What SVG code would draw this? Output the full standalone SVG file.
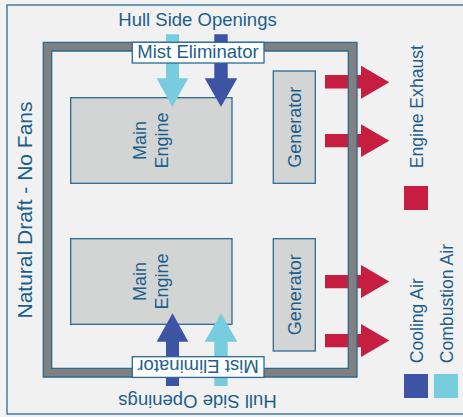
<svg xmlns="http://www.w3.org/2000/svg" width="463" height="417" viewBox="0 0 463 417">
<style>
text{font-family:"Liberation Sans",Arial,sans-serif;fill:#1d5f8c}
.t{font-size:18.5px}
.s{font-size:18px}
.l{font-size:17.6px}
.box{fill:#d3d4d4;stroke:#2a6a94;stroke-width:1.3}
.red{fill:#c61e41}
.dark{fill:#3d53a3}
.light{fill:#76cddd}
</style>
<rect x="0" y="0" width="463" height="417" fill="#f2f2f2"/>
<rect id="frame" x="7" y="5" width="470" height="409" fill="#f1f1f1" stroke="#2a6a94" stroke-width="1.3"/>
<g id="connectors">
<path class="red" d="M325 75H361V65.7L389.3 82.3L361 98.7V88.5H325Z"/>
<path class="red" d="M325 134H361V124.3L389.3 140.7L361 157V147.3H325Z"/>
<path class="red" d="M325 275H361V265L389.3 281.5L361 298V288.3H325Z"/>
<path class="red" d="M325 334H361V324L389.3 340.5L361 357V347.3H325Z"/>
</g>
<g id="wall">
<path d="M43.3 42.3H357V377H43.3ZM51.7 51H348.3V368.3H51.7Z" fill="#808080" fill-rule="evenodd" stroke="#2a6a94" stroke-width="1.3"/>
</g>
<g id="engine-top"><rect class="box" x="70.7" y="97.7" width="161.3" height="85.6"/>
<text class="s" text-anchor="middle" transform="translate(146,140.5) rotate(-90)">Main</text>
<text class="s" text-anchor="middle" transform="translate(167.7,140.5) rotate(-90)">Engine</text></g>
<g id="engine-bottom"><rect class="box" x="70.7" y="238.7" width="161.3" height="85.6"/>
<text class="s" text-anchor="middle" transform="translate(146,281.5) rotate(-90)">Main</text>
<text class="s" text-anchor="middle" transform="translate(167.7,281.5) rotate(-90)">Engine</text></g>
<g id="generator-top"><rect class="box" x="273.3" y="71" width="42" height="112.3"/>
<text class="s" text-anchor="middle" transform="translate(300.5,127.2) rotate(-90)">Generator</text></g>
<g id="generator-bottom"><rect class="box" x="273.3" y="238.7" width="42" height="112.3"/>
<text class="s" text-anchor="middle" transform="translate(300.5,294.8) rotate(-90)">Generator</text></g>
<g id="air-arrows">
<path class="light" d="M166 34.3H179V78.3H188.3L172.3 106.7L156.7 78.3H166Z"/>
<path class="dark" d="M214.3 34.3H227.7V78.3H237.3L221 106.7L204.7 78.3H214.3Z"/>
<path class="dark" d="M166 386H179V341.7H188.3L172.5 313.3L156.7 341.7H166Z"/>
<path class="light" d="M214.3 386H227.7V341.7H237.3L221 313.3L204.7 341.7H214.3Z"/>
</g>
<g id="mist-top"><rect x="132.3" y="42.3" width="131.7" height="20.7" fill="#fff" stroke="#2a6a94" stroke-width="1.3"/>
<text class="t" x="198" y="58.4" text-anchor="middle">Mist Eliminator</text></g>
<g id="mist-bottom"><rect x="132.3" y="356.7" width="131.7" height="20.7" fill="#fff" stroke="#2a6a94" stroke-width="1.3"/>
<text class="t" text-anchor="middle" transform="translate(198,360) rotate(180)">Mist Eliminator</text></g>
<g id="hull-top"><text class="t" x="197.5" y="26" text-anchor="middle">Hull Side Openings</text></g>
<g id="hull-bottom"><text class="t" text-anchor="middle" transform="translate(197.5,395) rotate(180)">Hull Side Openings</text></g>
<g id="natural"><text text-anchor="middle" style="font-size:21px" transform="translate(32.3,210) rotate(-90)">Natural Draft - No Fans</text></g>
<g id="legend">
<rect class="red" x="404" y="186" width="24" height="24"/>
<text class="l" transform="translate(423.3,168.3) rotate(-90)">Engine Exhaust</text>
<rect class="dark" x="404" y="374" width="24" height="24"/>
<text class="l" transform="translate(423.3,363.3) rotate(-90)">Cooling Air</text>
<rect class="light" x="434" y="374" width="24" height="24"/>
<text class="l" transform="translate(453.3,363.3) rotate(-90)">Combustion Air</text>
</g>
</svg>
